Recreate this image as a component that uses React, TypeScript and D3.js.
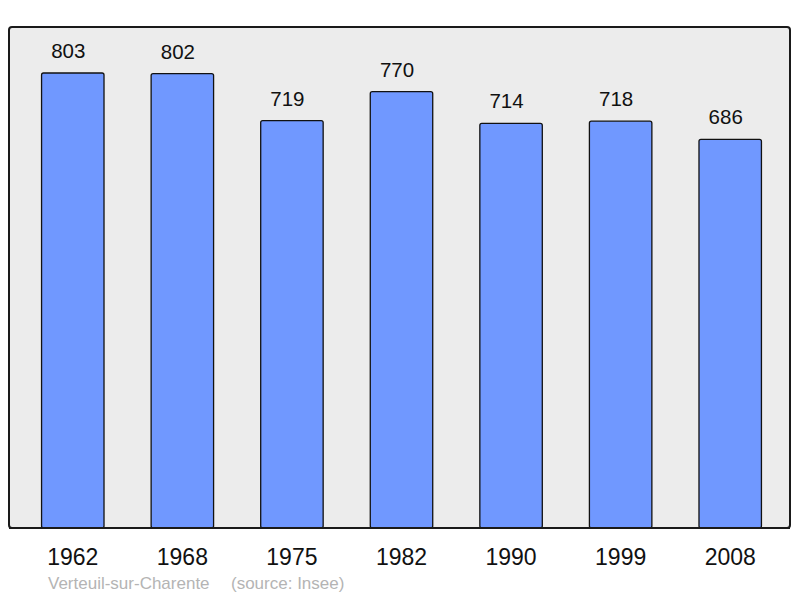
import React from 'react';
import * as d3 from 'd3';

const years = ['1962', '1968', '1975', '1982', '1990', '1999', '2008'];
const population = [803, 802, 719, 770, 714, 718, 686];
const placeName = 'Verteuil-sur-Charente';
const sourceText = '(source: Insee)';

export default function App() {
  const width = 800;
  const height = 598;
  const panel = { x: 9, y: 27, w: 781, h: 501 };
  const baseline = 528;

  const x = d3.scaleBand<string>().domain(years).range([18, 785]).paddingInner(0.43).paddingOuter(0.215);
  // 803 -> top at ~73
  const y = d3.scaleLinear().domain([0, 803]).range([baseline, 73]);

  return (
    <svg width={width} height={height} viewBox={`0 0 ${width} ${height}`}
      style={{ position: 'absolute', left: 0, top: 0, fontFamily: '"Liberation Sans", Arial, sans-serif' }}>
      <rect x={panel.x} y={panel.y} width={panel.w} height={panel.h} rx={3} fill="#ececec" stroke="#1a1a1a" strokeWidth={2} />
      {years.map((yr, i) => {
        const bx = x(yr) ?? 0;
        const top = y(population[i]);
        const cx = bx + x.bandwidth() / 2;
        return (
          <g key={yr}>
            <rect x={bx} y={top} width={x.bandwidth()} height={baseline - top} rx={2}
              fill="#7098ff" stroke="#111" strokeWidth={1.3} />
            <text x={cx - 4.5} y={top - 15} textAnchor="middle" fontSize={20.5} fill="#111">
              {population[i]}
            </text>
            <text x={cx} y={565} textAnchor="middle" fontSize={23} fill="#111">
              {yr}
            </text>
          </g>
        );
      })}
      <path d={`M${panel.x},${baseline}H${panel.x + panel.w}`} stroke="#1a1a1a" strokeWidth={2} />
      <text x={48} y={589} fontSize={17} fill="#b4b4b4">{placeName}</text>
      <text x={231} y={589} fontSize={17} fill="#b4b4b4">{sourceText}</text>
    </svg>
  );
}
